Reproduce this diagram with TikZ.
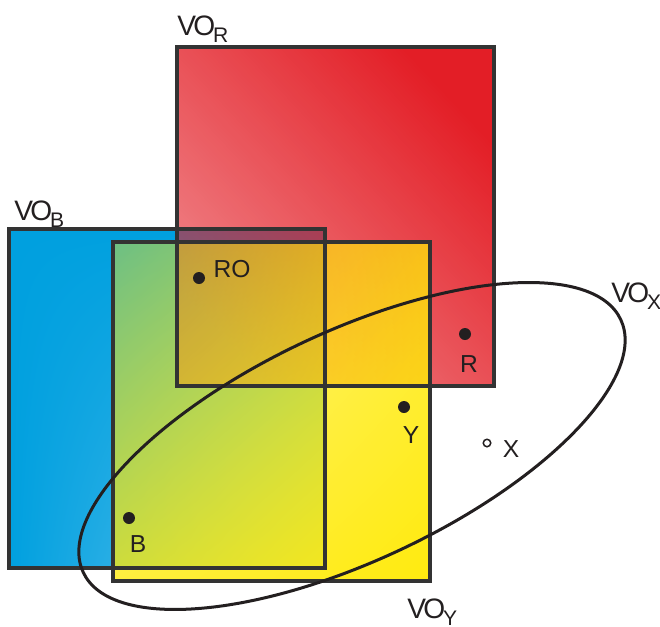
\documentclass[tikz,border=0pt]{standalone}
\usepackage{fontspec}
\setmainfont{Liberation Sans}
\usepackage{tikz}
\usetikzlibrary{positioning,fadings,shadings,calc}
\definecolor{VORed}{HTML}{E31E26}
\definecolor{VOBlue}{HTML}{00A0DF}
\definecolor{VOBlueLight}{HTML}{7CCBF0}
\definecolor{VOYellow}{HTML}{FFEA0A}
\definecolor{EdgeGray}{HTML}{333333}
\definecolor{InkBlack}{HTML}{231F20}
\tikzfading[name=redfade,left color=transparent!45,right color=transparent!0]
\tikzfading[name=yellowfade,upper left=transparent!55,upper right=transparent!22,
            lower left=transparent!20,lower right=transparent!0]
\tikzset{
  % Square faces
  blueface/.style={upper left=VOBlue,upper right=VOBlue,
                   lower left=VOBlue,lower right=VOBlueLight},
  redface/.style={fill=VORed,path fading=redfade,fading angle=45},
  yellowface/.style={fill=VOYellow,path fading=yellowfade},
  % Square outline
  sqedge/.style={draw=EdgeGray,line width=0.65mm},
  % Ellipse
  orbit/.style={draw=InkBlack,line width=0.6mm},
  % Points
  dot/.style={circle,fill=InkBlack,inner sep=0pt,minimum size=2.4mm},
  hollow/.style={circle,draw=InkBlack,line width=0.3mm,fill=white,
                 inner sep=0pt,minimum size=1.5mm},
  % Label styles
  lbl/.style={font=\fontsize{14}{14}\selectfont,text=InkBlack,inner sep=0pt},
  volbl/.style={font=\fontsize{16}{16}\selectfont,text=InkBlack,
                inner sep=0pt,anchor=base west}
}
\newcommand{\VOsub}[1]{V\kern-1.5pt O\kern-1.2pt\raisebox{-4pt}{\fontsize{12}{12}\selectfont #1}}

\begin{document}
\begin{tikzpicture}[x=0.2mm,y=-0.2mm]
  \useasboundingbox (0,0) rectangle (660,627);

  % squares
  \shade[blueface] (9,229) rectangle (325,568);
  \fill[redface] (177,47) rectangle (494,386);
  \fill[yellowface] (113,242) rectangle (430,581);
  \draw[sqedge] (9,229) rectangle (325,568);
  \draw[sqedge] (177,47) rectangle (494,386);
  \draw[sqedge] (113,242) rectangle (430,581);

  % ellipse
  \coordinate (xc) at (352,446);
  \draw[orbit,rotate around={25.2:(xc)}] (xc) ellipse [x radius=59.4mm,y radius=22.9mm];

  % points
  \node[dot] (ro) at (199,278) {};
  \node[dot] (r)  at (465,334) {};
  \node[dot] (y)  at (404,407) {};
  \node[dot] (b)  at (129,518) {};
  \node[hollow] (x) at (487,443) {};

  \node[lbl,right=1.6mm of ro,yshift=1.8mm] (rolbl) {RO};
  \node[lbl,below=3mm of r,xshift=0.8mm]    (rlbl)  {R};
  \node[lbl,below=2.6mm of y,xshift=1.4mm]  (ylbl)  {Y};
  \node[lbl,below=2.2mm of b,xshift=1.8mm]  (blbl)  {B};
  \node[lbl,right=2.2mm of x,yshift=-1.3mm] (xlbl)  {X};

  % square labels
  \node[volbl] (vor) at (177,35)  {\VOsub{R}};
  \node[volbl] (vob) at (14,220)  {\VOsub{B}};
  \node[volbl] (vox) at (611,302) {\VOsub{X}};
  \node[volbl] (voy) at (407,618) {\VOsub{Y}};
\end{tikzpicture}
\end{document}
